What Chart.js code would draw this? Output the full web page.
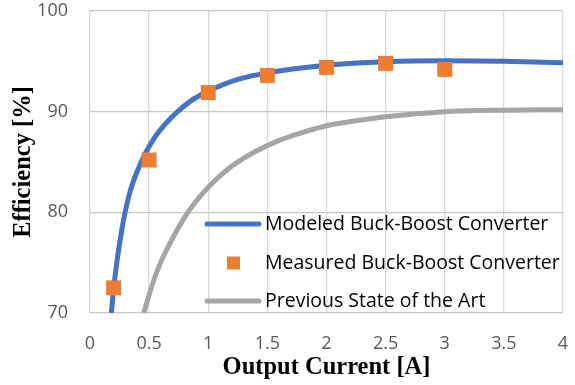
<!DOCTYPE html>
<html>
<head>
<meta charset="utf-8">
<script src="https://cdn.jsdelivr.net/npm/chart.js@4"></script>
<style>
  html, body { margin: 0; padding: 0; background: #fff; }
  #wrap { width: 575px; height: 385px; }
</style>
</head>
<body>
<div id="wrap"><canvas id="myChart" width="575" height="385"></canvas></div>
<script>
'use strict'

// values
const seriesNames = ['Modeled Buck-Boost Converter', 'Measured Buck-Boost Converter', 'Previous State of the Art']

const modeledCurrent = [0.18, 0.2, 0.23, 0.26, 0.29, 0.34, 0.4, 0.47, 0.55, 0.65, 0.75, 0.85, 0.95, 1, 1.25, 1.5, 2, 2.5, 3, 3.5, 4]
const modeledEff = [70, 72.4, 75.3, 77.6, 79.6, 82.1, 84.1, 85.9, 87.5, 88.95, 90.1, 91.05, 91.75, 92.05, 93.2, 93.85, 94.6, 94.95, 95.05, 95.0, 94.85]

const measuredCurrent = [0.2, 0.5, 1, 1.5, 2, 2.5, 3]
const measuredEff = [72.5, 85.2, 91.9, 93.6, 94.4, 94.8, 94.2]

const previousCurrent = [0.455, 0.5, 0.55, 0.6, 0.7, 0.8, 0.9, 1, 1.2, 1.4, 1.6, 1.8, 2, 2.25, 2.5, 3, 3.5, 4]
const previousEff = [70, 71.8, 73.6, 75.1, 77.45, 79.5, 81.15, 82.5, 84.6, 86.05, 87.15, 87.95, 88.6, 89.1, 89.5, 90.0, 90.15, 90.2]

const xTicks = [0, 0.5, 1, 1.5, 2, 2.5, 3, 3.5, 4]
const yTicks = [70, 80, 90, 100]

const toPoints = (xs, ys) => xs.map((x, i) => ({ x: x, y: ys[i] }))

const blue = '#4472C4'
const orange = '#ED7D31'
const gray = '#A5A5A5'

// legend drawn inside the plot, without a box
const insideLegend = {
  id: 'insideLegend',
  afterDatasetsDraw(chart) {
    const ctx = chart.ctx
    const area = chart.chartArea
    const x0 = area.left + 117
    const rows = [224, 263, 301]
    ctx.save()
    ctx.font = '19.5px "Open Sans"'
    ctx.textBaseline = 'middle'
    chart.data.datasets.forEach((ds, i) => {
      const y = rows[i]
      if (ds.showLine) {
        ctx.strokeStyle = ds.borderColor
        ctx.lineWidth = 5
        ctx.lineCap = 'round'
        ctx.beginPath()
        ctx.moveTo(x0, y)
        ctx.lineTo(x0 + 52, y)
        ctx.stroke()
      } else {
        ctx.fillStyle = ds.backgroundColor
        ctx.fillRect(x0 + 20, y - 6.5, 13, 13)
      }
      ctx.fillStyle = '#000'
      ctx.fillText(ds.label, x0 + 58, y)
    })
    ctx.restore()
  }
}

const ctx = document.getElementById('myChart')

const myChart = new Chart(ctx, {
  type: 'scatter',
  data: {
    datasets: [
      {
        label: seriesNames[0],
        data: toPoints(modeledCurrent, modeledEff),
        showLine: true,
        borderColor: blue,
        backgroundColor: blue,
        borderWidth: 5,
        pointRadius: 0,
        cubicInterpolationMode: 'monotone',
        order: 1
      },
      {
        label: seriesNames[1],
        data: toPoints(measuredCurrent, measuredEff),
        showLine: false,
        pointStyle: 'rect',
        pointRadius: 10.6,
        backgroundColor: orange,
        borderColor: orange,
        borderWidth: 0,
        order: 0
      },
      {
        label: seriesNames[2],
        data: toPoints(previousCurrent, previousEff),
        showLine: true,
        borderColor: gray,
        backgroundColor: gray,
        borderWidth: 5,
        pointRadius: 0,
        cubicInterpolationMode: 'monotone',
        order: 2
      }
    ]
  },
  options: {
    responsive: false,
    animation: false,
    layout: { autoPadding: false, padding: { top: 11, right: 12, left: 0, bottom: 0 } },
    plugins: {
      legend: { display: false },
      tooltip: { enabled: false }
    },
    scales: {
      x: {
        type: 'linear',
        min: 0,
        max: 4,
        afterFit: (scale) => { scale.height = 72 },
        afterBuildTicks: (scale) => { scale.ticks = xTicks.map(v => ({ value: v })) },
        // invisible tick marks push the labels away without adding layout padding
        grid: { color: '#D9D9D9', lineWidth: 1.3, drawTicks: true, tickLength: 20, tickColor: 'rgba(0,0,0,0)' },
        border: { display: false },
        ticks: {
          padding: 0,
          color: '#595959',
          font: { family: 'Open Sans', size: 18 },
          maxRotation: 0,
          callback: (value) => String(value)
        },
        title: {
          display: true,
          text: 'Output Current [A]',
          color: '#000',
          font: { family: 'Liberation Serif', size: 24.5, weight: 'bold' },
          padding: { top: 0, bottom: 3 }
        }
      },
      y: {
        min: 70,
        max: 100,
        afterFit: (scale) => { scale.width = 90 },
        afterBuildTicks: (scale) => { scale.ticks = yTicks.map(v => ({ value: v })) },
        grid: { color: '#C8C8C8', lineWidth: 1.3, drawTicks: true, tickLength: 22, tickColor: 'rgba(0,0,0,0)' },
        border: { display: false },
        ticks: {
          padding: 0,
          color: '#595959',
          font: { family: 'Open Sans', size: 18 }
        },
        title: {
          display: true,
          text: 'Efficiency [%]',
          color: '#000',
          font: { family: 'Liberation Serif', size: 24.5, weight: 'bold' },
          padding: { top: 9, bottom: 0 }
        }
      }
    }
  },
  plugins: [insideLegend]
})
</script>
</body>
</html>
